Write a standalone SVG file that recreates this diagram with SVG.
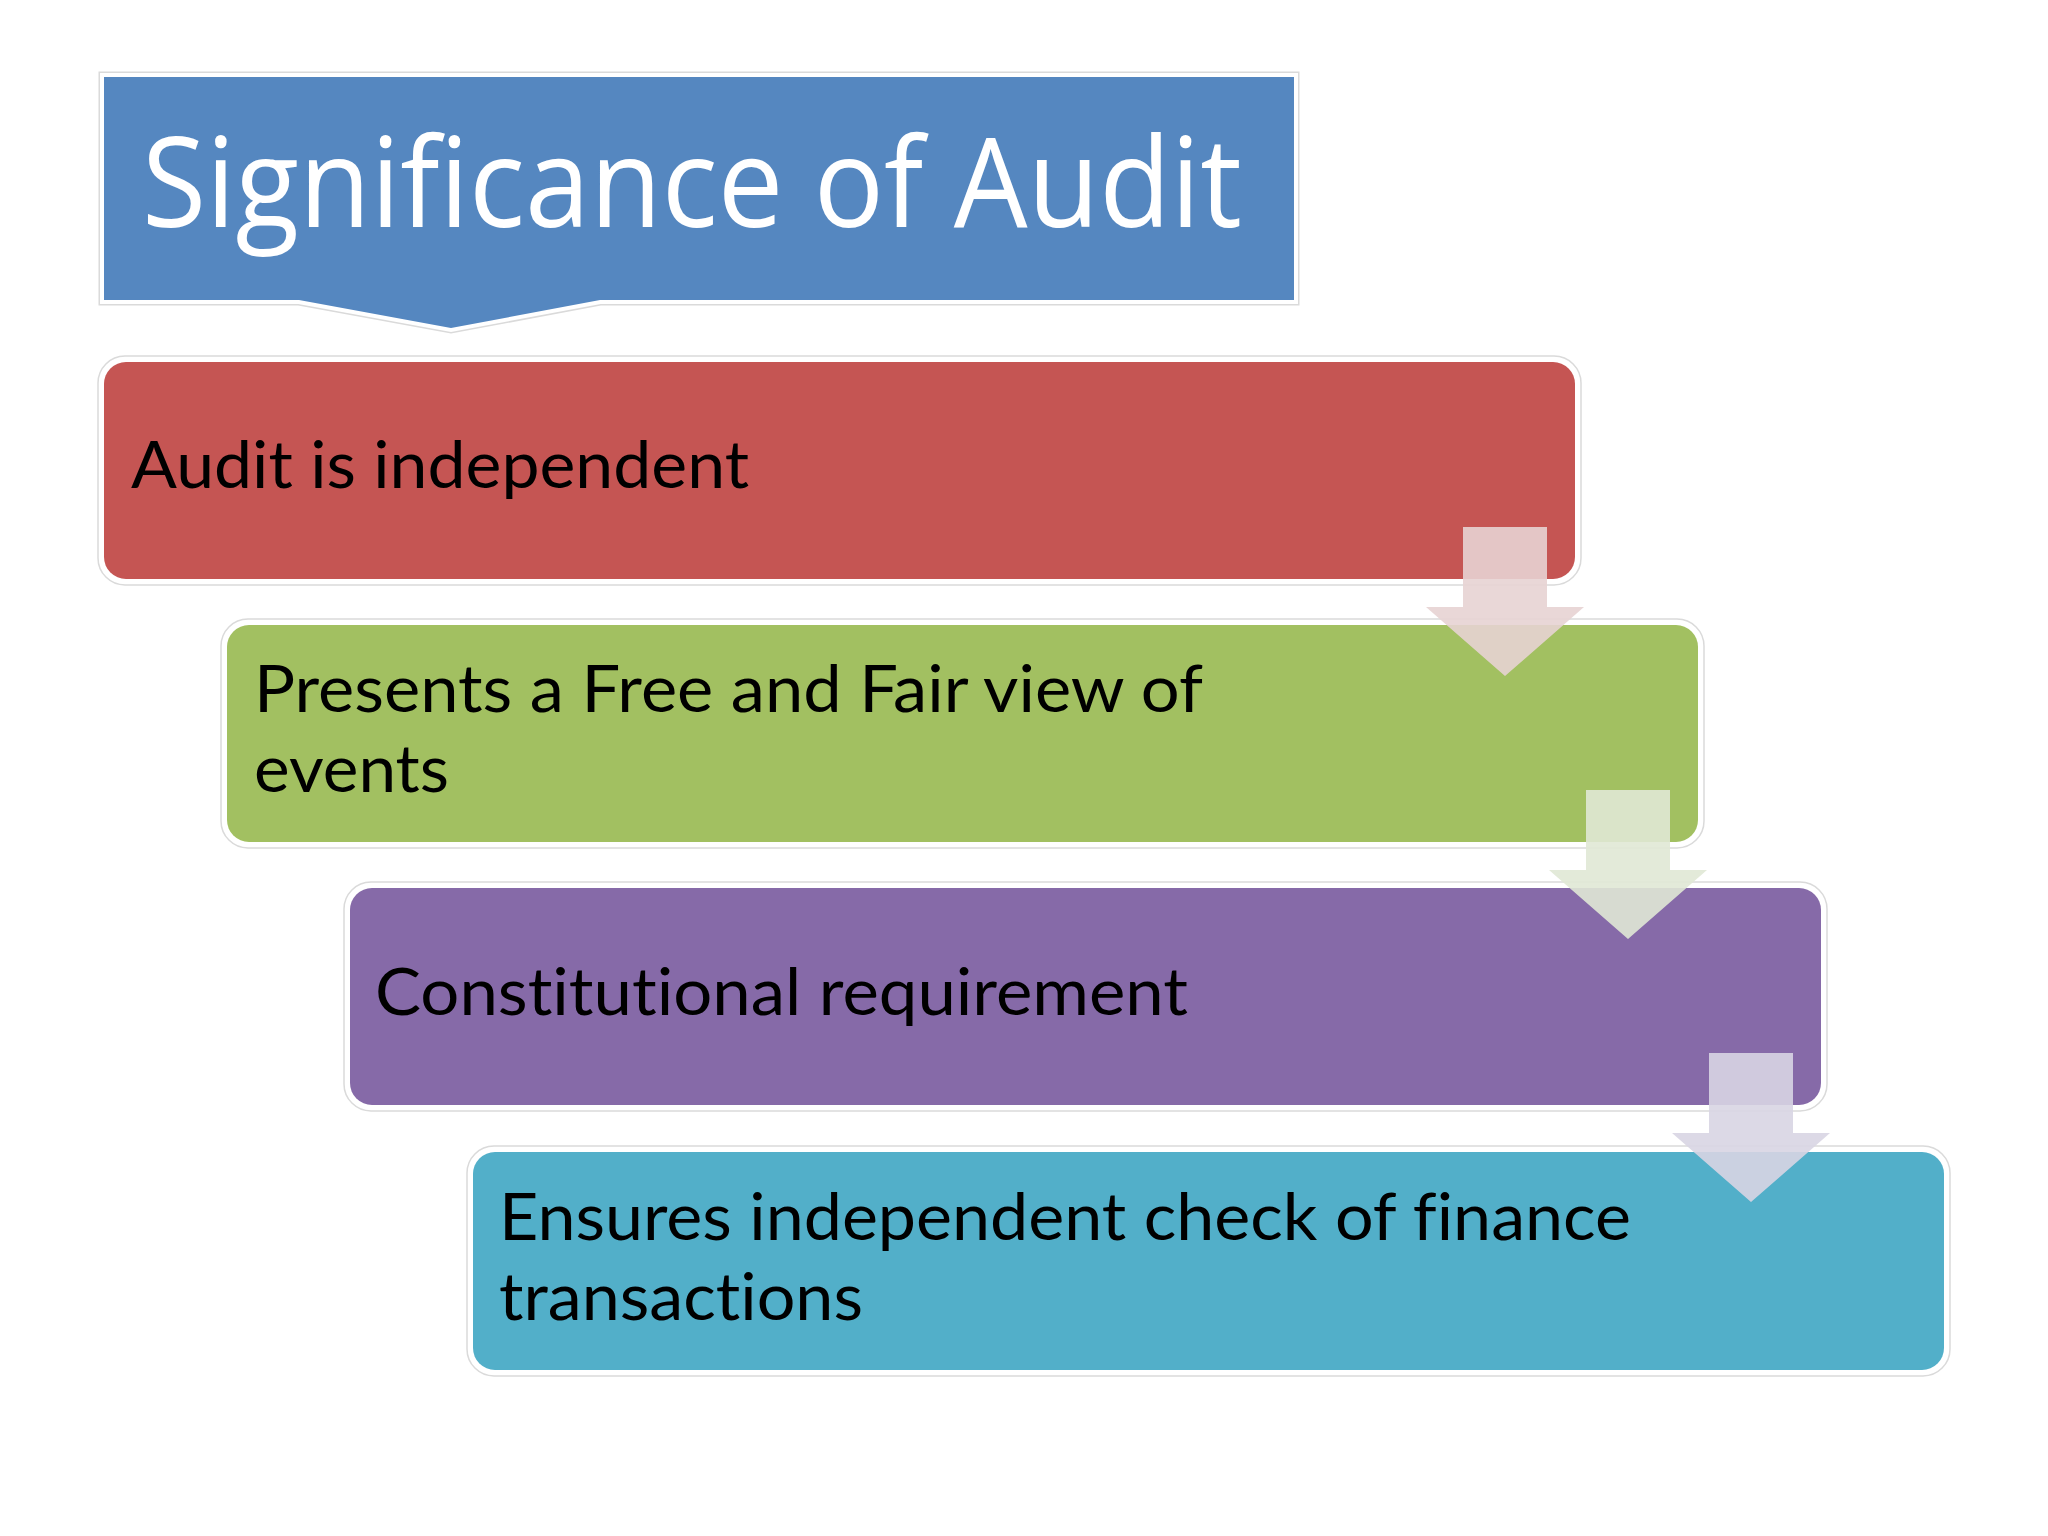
<svg xmlns="http://www.w3.org/2000/svg" width="2048" height="1536" viewBox="0 0 2048 1536">
  <style>
    .frame { fill: #ffffff; stroke: #dadada; stroke-width: 1.5; }
    .box-text { font-family: "Lato", "Open Sans", "Liberation Sans", sans-serif; font-size: 66px; fill: #000000; font-variant-ligatures: none; font-feature-settings: "liga" 0, "dlig" 0; }
    .title-text { font-family: "Open Sans", "Lato", "Liberation Sans", sans-serif; font-size: 124px; fill: #ffffff; }
    .arrow { opacity: 0.9; }
  </style>
  <rect width="2048" height="1536" fill="#ffffff"/>

  <g id="title">
    <path d="M104,77 H1294 V300 H600 L451,328 L299,300 H104 Z" fill="none" stroke="#dadada" stroke-width="11" stroke-linejoin="miter"/>
    <path d="M104,77 H1294 V300 H600 L451,328 L299,300 H104 Z" fill="none" stroke="#ffffff" stroke-width="8" stroke-linejoin="miter"/>
    <path d="M104,77 H1294 V300 H600 L451,328 L299,300 H104 Z" fill="#5587C0"/>
    <text class="title-text" x="142" y="227" textLength="1100" lengthAdjust="spacingAndGlyphs">Significance of Audit</text>
  </g>

  <g id="node-1">
    <rect class="frame" x="98" y="356" width="1483" height="229" rx="27"/>
    <rect x="104" y="362" width="1471" height="217" rx="22" fill="#C55553"/>
    <text class="box-text" x="131" y="488" textLength="618" lengthAdjust="spacingAndGlyphs">Audit is independent</text>
  </g>

  <g id="node-2">
    <rect class="frame" x="221" y="619" width="1483" height="229" rx="27"/>
    <rect x="227" y="625" width="1471" height="217" rx="22" fill="#A2C061"/>
    <text class="box-text" x="254" y="712" textLength="949" lengthAdjust="spacingAndGlyphs">Presents a Free and Fair view of</text>
    <text class="box-text" x="254" y="792" textLength="195" lengthAdjust="spacingAndGlyphs">events</text>
  </g>

  <g id="node-3">
    <rect class="frame" x="344" y="882" width="1483" height="229" rx="27"/>
    <rect x="350" y="888" width="1471" height="217" rx="22" fill="#866AA8"/>
    <text class="box-text" x="375" y="1015" textLength="813" lengthAdjust="spacingAndGlyphs">Constitutional requirement</text>
  </g>

  <g id="node-4">
    <rect class="frame" x="467" y="1146" width="1483" height="230" rx="27"/>
    <rect x="473" y="1152" width="1471" height="218" rx="22" fill="#52AFC9"/>
    <text class="box-text" x="499" y="1240" textLength="1132" lengthAdjust="spacingAndGlyphs">Ensures independent check of finance</text>
    <text class="box-text" x="499" y="1320" textLength="364" lengthAdjust="spacingAndGlyphs">transactions</text>
  </g>

  <g id="connectors">
    <path class="arrow" d="M1463,527 H1547 V607 H1584 L1505,676 L1426,607 H1463 Z" fill="#E7D3D3"/>
    <path class="arrow" d="M1586,790 H1670 V870 H1707 L1628,939 L1549,870 H1586 Z" fill="#E0E8D5"/>
    <path class="arrow" d="M1709,1053 H1793 V1133 H1830 L1751,1202 L1672,1133 H1709 Z" fill="#D8D5E3"/>
  </g>
</svg>
